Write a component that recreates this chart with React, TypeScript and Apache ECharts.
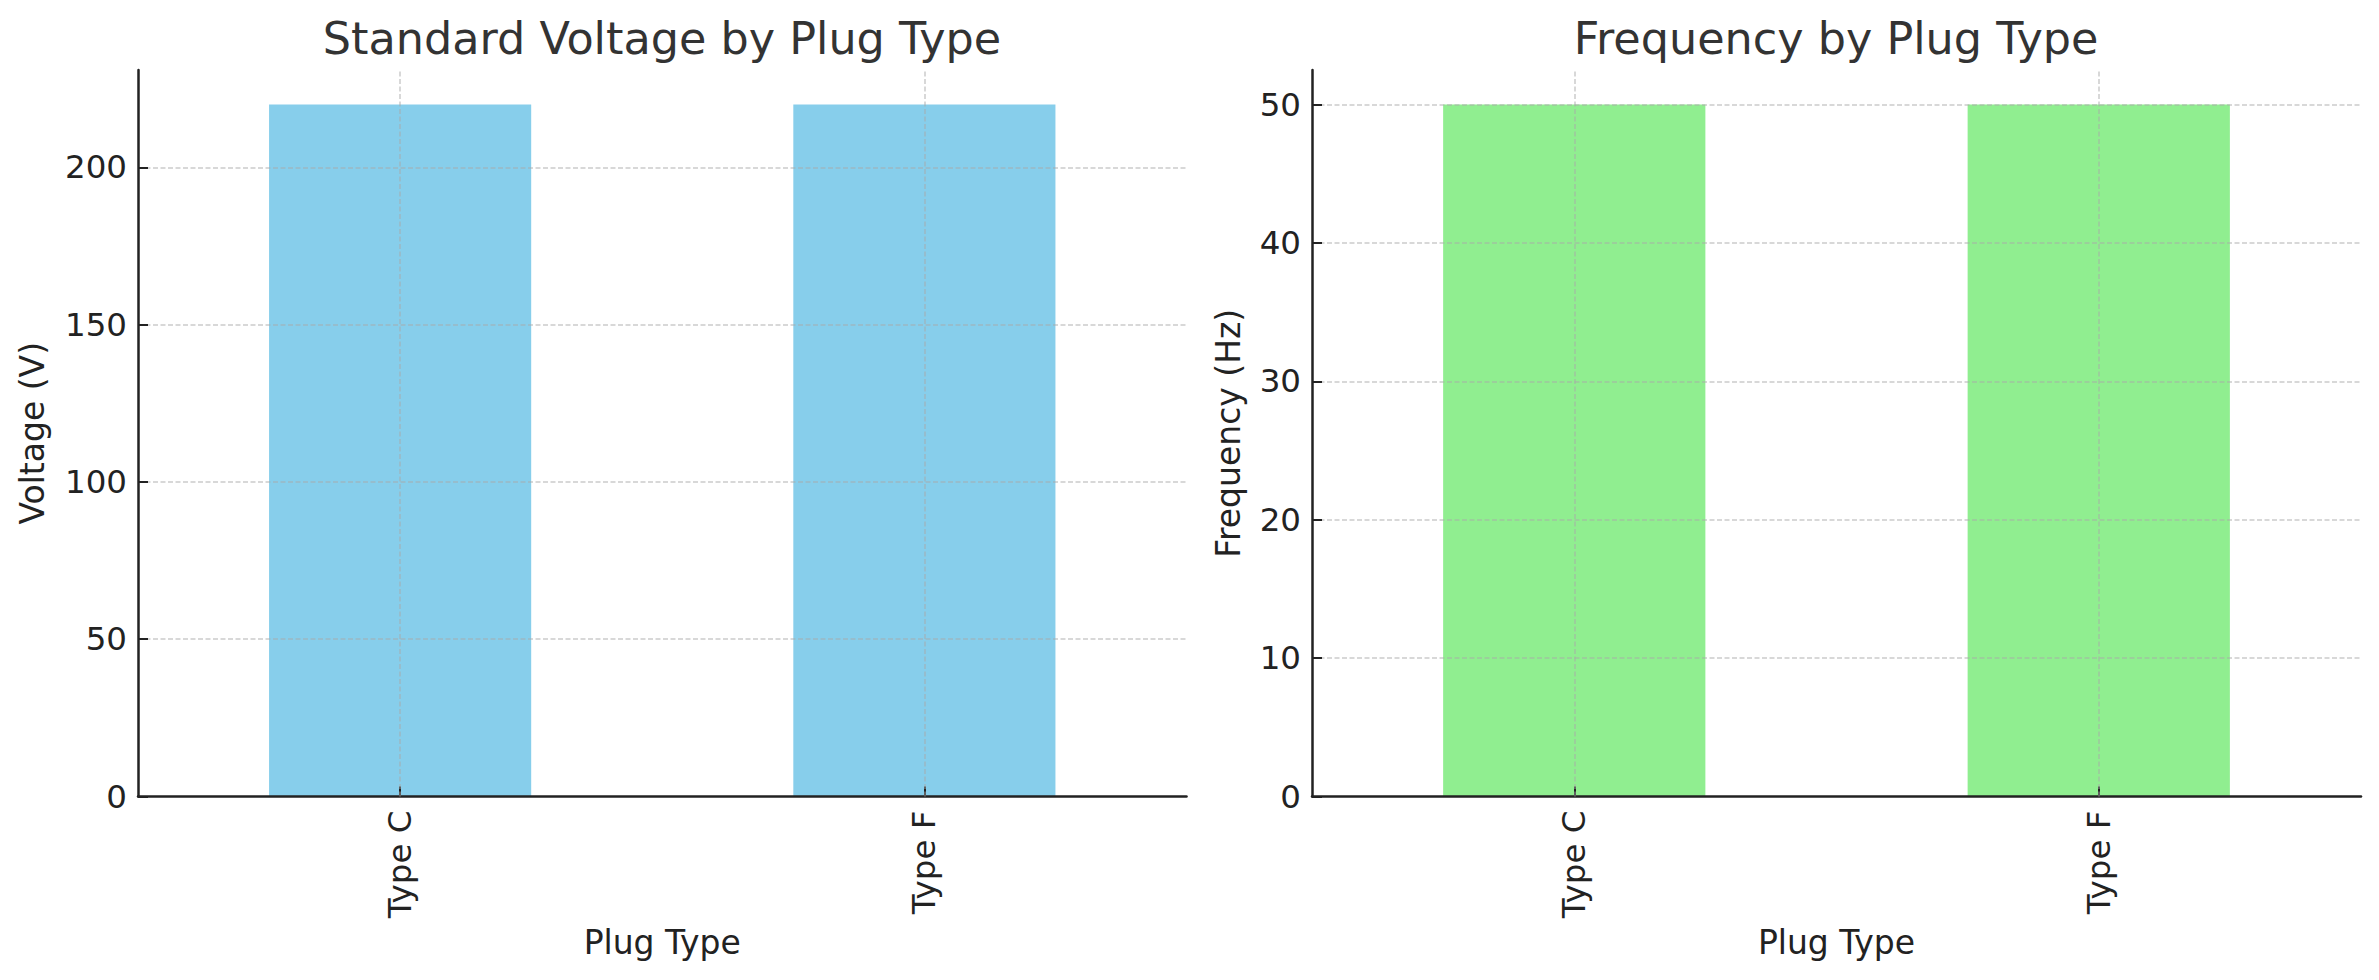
import React, { useEffect, useRef } from "react";
import * as echarts from "echarts";

const plugTypes = ["Type C", "Type F"];
const voltageValues = [220, 220];
const frequencyValues = [50, 50];
const voltageTicks = [0, 50, 100, 150, 200];
const frequencyTicks = [0, 10, 20, 30, 40, 50];
const voltageAxisMax = 231;
const frequencyAxisMax = 52.5;

const FONT = "DejaVu Sans";
const DARK = "#222222";
const GRID_COLOR = "rgba(170,170,170,0.6)";
const TICK_FONT = 32.5;
const NAME_FONT = 33;

function buildX(gridIndex: number) {
  return {
    type: "category",
    gridIndex,
    data: plugTypes,
    z: 3,
    name: "Plug Type",
    nameLocation: "middle",
    nameGap: 128,
    nameTextStyle: { fontFamily: FONT, fontSize: NAME_FONT, color: DARK },
    axisLine: { show: true, lineStyle: { color: DARK, width: 2.5 } },
    axisTick: { show: true, inside: true, length: 10, alignWithLabel: true, lineStyle: { color: DARK, width: 2 } },
    axisLabel: { rotate: 90, margin: 14, fontFamily: FONT, fontSize: TICK_FONT, color: DARK },
    splitLine: { show: false },
  };
}

function buildY(gridIndex: number, name: string, max: number, interval: number, ticks: number[], nameGap: number) {
  return {
    type: "value",
    gridIndex,
    min: 0,
    max,
    interval,
    z: 3,
    name,
    nameLocation: "middle",
    nameGap,
    nameTextStyle: { fontFamily: FONT, fontSize: NAME_FONT, color: DARK },
    axisLine: { show: true, lineStyle: { color: DARK, width: 2.5 } },
    axisTick: { show: true, inside: true, length: 10, customValues: ticks, lineStyle: { color: DARK, width: 2 } },
    axisLabel: { margin: 11, fontFamily: FONT, fontSize: TICK_FONT, color: DARK, customValues: ticks },
    splitLine: { show: true, showMinLine: false, lineStyle: { color: GRID_COLOR, width: 1.5, type: [5, 2.5] } },
  };
}

function vGrid() {
  return {
    silent: true,
    symbol: ["none", "none"],
    label: { show: false },
    emphasis: { disabled: true },
    lineStyle: { color: GRID_COLOR, width: 1.5, type: [5, 2.5] },
    data: plugTypes.map((c) => ({ xAxis: c })),
  };
}

export default function App() {
  const ref = useRef<HTMLDivElement>(null);
  useEffect(() => {
    document.body.style.margin = "0";
    if (!ref.current) return;
    const chart = echarts.init(ref.current, null, { renderer: "svg" });
    chart.setOption({
      animation: false,
      backgroundColor: "#ffffff",
      title: [
        {
          text: "Standard Voltage by Plug Type",
          left: 662,
          top: 16,
          textAlign: "center",
          padding: 0,
          textStyle: { fontFamily: FONT, fontSize: 44.5, fontWeight: "normal", color: "#333333" },
        },
        {
          text: "Frequency by Plug Type",
          left: 1836,
          top: 16,
          textAlign: "center",
          padding: 0,
          textStyle: { fontFamily: FONT, fontSize: 44.5, fontWeight: "normal", color: "#333333" },
        },
      ],
      grid: [
        { left: 138, right: 1192.5, top: 70, bottom: 183.5 },
        { left: 1312, right: 18, top: 70, bottom: 183.5 },
      ],
      xAxis: [buildX(0), buildX(1)],
      yAxis: [
        buildY(0, "Voltage (V)", voltageAxisMax, 50, voltageTicks, 89),
        buildY(1, "Frequency (Hz)", frequencyAxisMax, 10, frequencyTicks, 67),
      ],
      series: [
        {
          type: "bar",
          xAxisIndex: 0,
          yAxisIndex: 0,
          data: voltageValues,
          barWidth: "50%",
          itemStyle: { color: "#87CEEB" },
          markLine: vGrid(),
        },
        {
          type: "bar",
          xAxisIndex: 1,
          yAxisIndex: 1,
          data: frequencyValues,
          barWidth: "50%",
          itemStyle: { color: "#90EE90" },
          markLine: vGrid(),
        },
      ],
    });
    return () => chart.dispose();
  }, []);
  return <div ref={ref} style={{ width: 2379, height: 980 }} />;
}
